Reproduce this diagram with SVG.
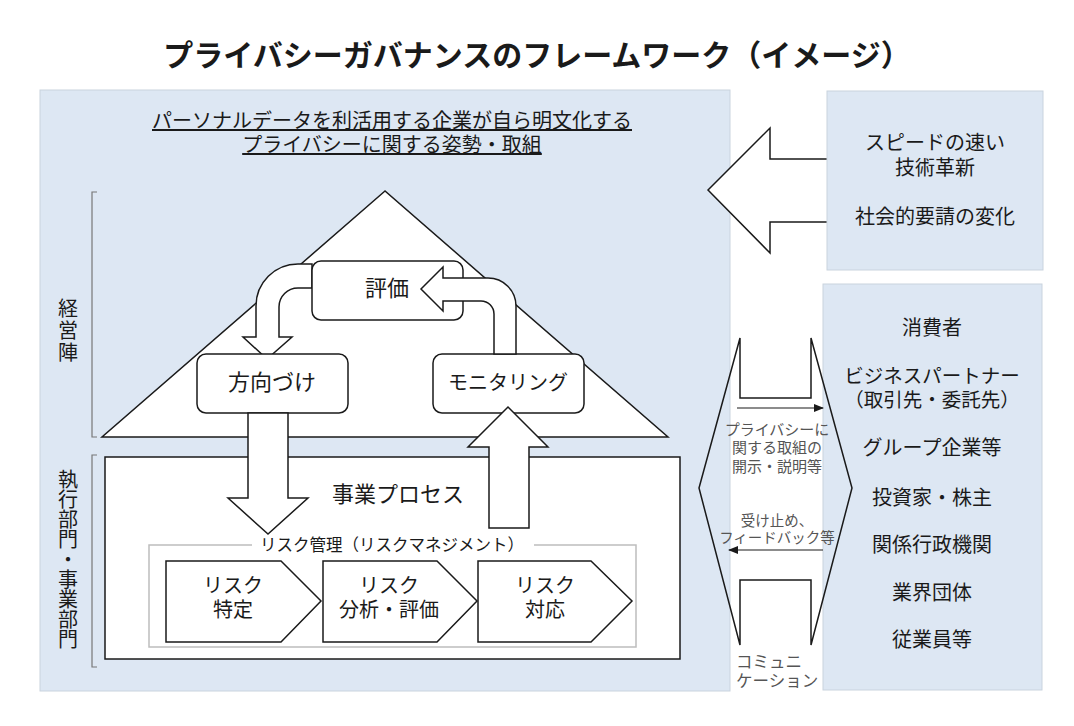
<svg xmlns="http://www.w3.org/2000/svg" width="1074" height="726" viewBox="0 0 1074 726">
<defs>
<style>
text{font-family:"Noto Sans CJK JP","Noto Sans",sans-serif;fill:#1a1a1a}
.panel{fill:#dde7f3;stroke:#c9d3de;stroke-width:1}
.shape{fill:#fff;stroke:#1a1a1a;stroke-width:1.5}
.c{text-anchor:middle}
.bk{fill:none;stroke:#777;stroke-width:1.2}
.gt{fill:#555}
.vt{writing-mode:vertical-rl;text-anchor:middle;font-size:20px}
</style>
<marker id="ah" viewBox="0 0 10 10" refX="9" refY="5" markerWidth="10" markerHeight="10" markerUnits="userSpaceOnUse" orient="auto">
<path d="M0,1 L10,5 L0,9 Z" fill="#1a1a1a"/>
</marker>
</defs>
<rect width="1074" height="726" fill="#fff"/>
<text id="title" x="537" y="66" class="c" font-size="30" font-weight="bold" fill="#000">プライバシーガバナンスのフレームワーク（イメージ）</text>

<g id="left-panel">
<rect class="panel" x="40" y="90" width="690" height="601"/>
<text x="392" y="128" class="c" font-size="20" text-decoration="underline">パーソナルデータを利活用する企業が自ら明文化する</text>
<text x="392" y="152" class="c" font-size="20" text-decoration="underline">プライバシーに関する姿勢・取組</text>
</g>

<g id="brackets">
<path class="bk" d="M97,192 L92,192 L92,437 L97,437"/>
<path class="bk" d="M97,455 L92,455 L92,667 L97,667"/>
<text class="vt" x="68" y="331" letter-spacing="2">経営陣</text>
<text class="vt" x="68" y="559">執行部門・事業部門</text>
</g>

<g id="management-triangle">
<polygon class="shape" points="385,191 102,437 668,437"/>
</g>

<g id="business-process">
<rect class="shape" x="105" y="457" width="575" height="202"/>
<text x="398" y="502" class="c" font-size="22">事業プロセス</text>
</g>

<g id="risk-management">
<rect x="149" y="545" width="487" height="102" fill="none" stroke="#bdbdbd" stroke-width="1.5"/>
<rect x="252" y="536" width="282" height="18" fill="#fff"/>
<text x="392" y="551" class="c" font-size="16.5" fill="#b5b5b5">リスク管理（リスクマネジメント）</text>
</g>

<g id="risk-identify">
<polygon class="shape" points="166,561 281,561 321,601 281,642 166,642"/>
<text x="233" y="593" class="c" font-size="20">リスク</text>
<text x="233" y="617" class="c" font-size="20">特定</text>
</g>
<g id="risk-analysis">
<polygon class="shape" points="323,561 437,561 477,601 437,642 323,642"/>
<text x="389" y="593" class="c" font-size="20">リスク</text>
<text x="389" y="617" class="c" font-size="20">分析・評価</text>
</g>
<g id="risk-response">
<polygon class="shape" points="478,561 591,561 632,601 591,642 478,642"/>
<text x="545" y="593" class="c" font-size="20">リスク</text>
<text x="545" y="617" class="c" font-size="20">対応</text>
</g>

<g id="connectors">
<path class="shape" d="M312,264 L298,264 A42,42 0 0 0 256,306 L256,337 L243,337 L267,359 L292,337 L279,337 L279,307 A19,19 0 0 1 298,288 L312,288 Z"/>
</g>

<g id="evaluate">
<rect class="shape" x="312" y="261" width="151" height="59" rx="9"/>
<text x="387" y="296" class="c" font-size="22">評価</text>
</g>
<g id="direct">
<rect class="shape" x="197" y="354" width="151" height="59" rx="9"/>
<text x="272" y="390" class="c" font-size="22">方向づけ</text>
</g>
<g id="monitor">
<rect class="shape" x="433" y="354" width="151" height="59" rx="9"/>
<text x="508" y="390" class="c" font-size="20">モニタリング</text>
</g>

<g id="connectors-2">
<path class="shape" d="M516,354 L516,306 A28,28 0 0 0 488,278 L443,278 L443,267 L421,289 L443,311 L443,301 L481,301 A13,13 0 0 1 494,314 L494,354 Z"/>
<polygon class="shape" points="248,413 288,413 288,498 308,498 268,534 228,498 248,498"/>
<polygon class="shape" points="489,528 529,528 529,447 548,447 508,407 468,447 489,447"/>
<polygon class="shape" points="708,190 770,128 770,159 832,159 832,222 770,222 770,253"/>
</g>

<g id="environment">
<rect class="panel" x="827" y="91" width="216" height="179"/>
<text x="935" y="150" class="c" font-size="20">スピードの速い</text>
<text x="935" y="175" class="c" font-size="20">技術革新</text>
<text x="935" y="224" class="c" font-size="20">社会的要請の変化</text>
</g>

<g id="stakeholders">
<rect class="panel" x="823" y="284" width="219" height="406"/>
<text x="932" y="335" class="c" font-size="20">消費者</text>
<text x="932" y="383" class="c" font-size="19.5">ビジネスパートナー</text>
<text x="932" y="407" class="c" font-size="19.5">（取引先・委託先）</text>
<text x="932" y="455" class="c" font-size="20">グループ企業等</text>
<text x="932" y="505" class="c" font-size="20">投資家・株主</text>
<text x="932" y="552" class="c" font-size="20">関係行政機関</text>
<text x="932" y="600" class="c" font-size="20">業界団体</text>
<text x="932" y="647" class="c" font-size="20">従業員等</text>
</g>

<g id="communication">
<polygon points="740,338 740,398 811,398 811,338 852,488 811,645 811,580 740,580 740,645 699,488" fill="none" stroke="#1a1a1a" stroke-width="1.5"/>
<line x1="737" y1="408" x2="823" y2="408" stroke="#1a1a1a" stroke-width="1.2" marker-end="url(#ah)"/>
<line x1="823" y1="550" x2="729" y2="550" stroke="#1a1a1a" stroke-width="1.2" marker-end="url(#ah)"/>
<text x="777" y="435" class="c gt" font-size="15">プライバシーに</text>
<text x="777" y="453" class="c gt" font-size="15">関する取組の</text>
<text x="777" y="472" class="c gt" font-size="15">開示・説明等</text>
<text x="777" y="526" class="c gt" font-size="14.5">受け止め、</text>
<text x="777" y="543" class="c gt" font-size="14.5">フィードバック等</text>
<text x="736" y="668" class="gt" font-size="16.5">コミュニ</text>
<text x="736" y="687" class="gt" font-size="16.5">ケーション</text>
</g>
</svg>
